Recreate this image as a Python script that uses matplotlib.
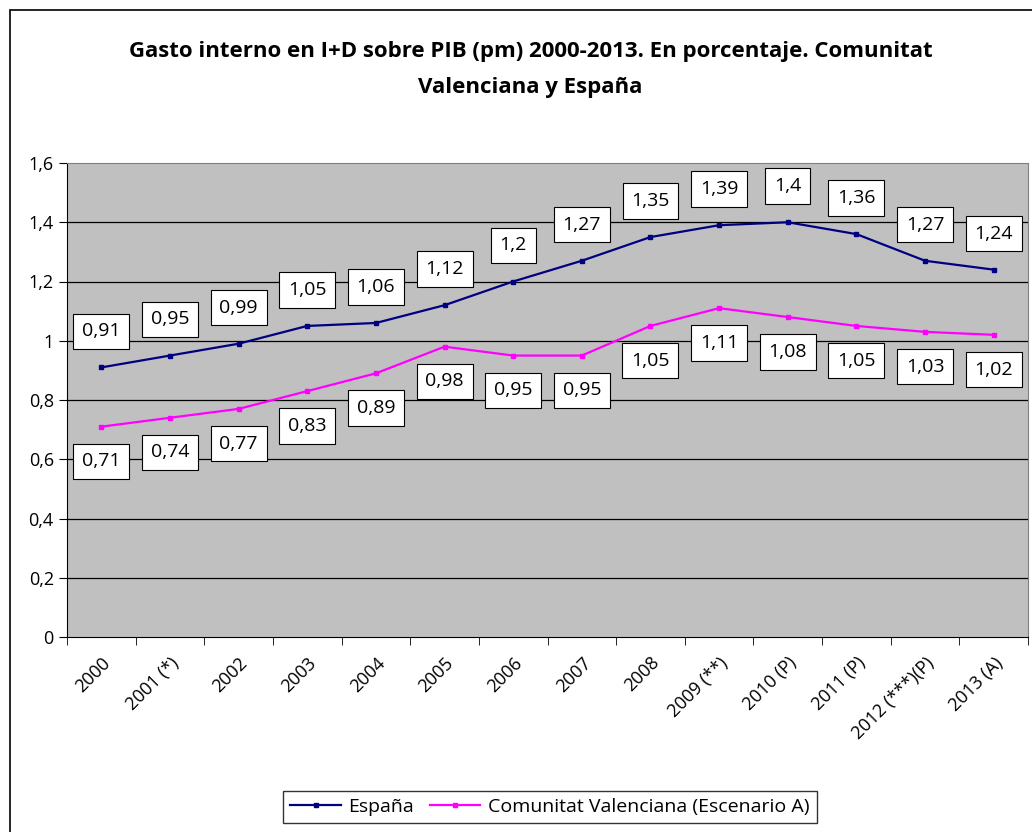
import numpy as np
import matplotlib
matplotlib.use("Agg")
import matplotlib.pyplot as plt
from matplotlib.patches import Rectangle
from matplotlib.ticker import FixedLocator

plt.rcParams['font.family'] = ['Open Sans', 'DejaVu Sans']

# datos
years = ['2000', '2001 (*)', '2002', '2003', '2004', '2005', '2006', '2007',
         '2008', '2009 (**)', '2010 (P)', '2011 (P)', '2012 (***)(P)', '2013 (A)']
espana = [0.91, 0.95, 0.99, 1.05, 1.06, 1.12, 1.2, 1.27, 1.35, 1.39, 1.4, 1.36, 1.27, 1.24]
valencia = [0.71, 0.74, 0.77, 0.83, 0.89, 0.98, 0.95, 0.95, 1.05, 1.11, 1.08, 1.05, 1.03, 1.02]
yticks = [0, 0.2, 0.4, 0.6, 0.8, 1.0, 1.2, 1.4, 1.6]

def fmt(v):
    return ('%g' % v).replace('.', ',')

fig = plt.figure(figsize=(10.32, 8.32), dpi=100)
# marco exterior
fig.patches.append(Rectangle((10 / 1032, -0.1), 1.2, 1 - 10 / 832 + 0.1,
                             transform=fig.transFigure, fill=False,
                             edgecolor='black', linewidth=1.2))

ax = fig.add_axes([67 / 1032, 1 - 637 / 832, (1028 - 67) / 1032, (637 - 163) / 832])
ax.set_facecolor('#C0C0C0')
x = np.arange(len(years))

ax.set_xlim(-0.5, len(years) - 0.5)
ax.set_ylim(0, 1.6)
ax.set_yticks(yticks)
ax.set_yticklabels([fmt(v) for v in yticks], fontsize=13)
for y in yticks[1:-1]:
    ax.axhline(y, color='black', linewidth=0.9, zorder=1)

ln1, = ax.plot(x, espana, color='#000080', linewidth=1.6, marker='s', markersize=3.5, zorder=3)
ln2, = ax.plot(x, valencia, color='#FF00FF', linewidth=1.6, marker='s', markersize=3.5, zorder=3)

box = dict(boxstyle='square,pad=0.45', facecolor='white', edgecolor='black', linewidth=0.8)
for xi, v in zip(x, espana):
    ax.annotate(fmt(v), (xi, v), xytext=(0, 26), textcoords='offset points',
                ha='center', va='center', fontsize=14, bbox=box, zorder=5)
for xi, v in zip(x, valencia):
    ax.annotate(fmt(v), (xi, v), xytext=(0, -25), textcoords='offset points',
                ha='center', va='center', fontsize=14, bbox=box, zorder=5)

ax.set_xticks(x)
ax.set_xticklabels(years, rotation=45, ha='right', rotation_mode='anchor', fontsize=13)
ax.tick_params(axis='x', length=0, pad=12)
ax.xaxis.set_minor_locator(FixedLocator(np.arange(len(years) + 1) - 0.5))
ax.tick_params(axis='x', which='minor', length=6, direction='out')
ax.tick_params(axis='y', length=6, direction='out')

for s in ['top', 'right']:
    ax.spines[s].set_color('#808080')
ax.spines['left'].set_color('black')
ax.spines['bottom'].set_color('black')

fig.text(0.514, 1 - 52 / 832, 'Gasto interno en I+D sobre PIB (pm) 2000-2013. En porcentaje. Comunitat',
         ha='center', va='center', fontsize=16, fontweight='bold')
fig.text(0.514, 1 - 87 / 832, 'Valenciana y España',
         ha='center', va='center', fontsize=16, fontweight='bold')

leg = fig.legend([ln1, ln2], ['España', 'Comunitat Valenciana (Escenario A)'],
                 loc='center', bbox_to_anchor=(550 / 1032, 1 - 807 / 832), ncol=2,
                 fontsize=14, frameon=True, fancybox=False, edgecolor='black',
                 handlelength=2.6, handletextpad=0.4, columnspacing=0.8, borderpad=0.35)
leg.get_frame().set_linewidth(1.0)

fig.savefig('out.png', dpi=100)
